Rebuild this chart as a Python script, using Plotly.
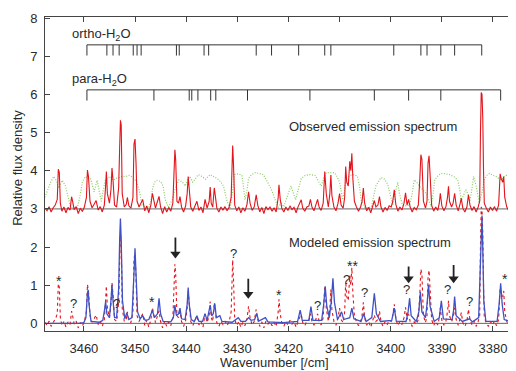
import plotly.graph_objects as go

# ---------------- data ----------------
x_ticks = [3460, 3450, 3440, 3430, 3420, 3410, 3400, 3390, 3380]
y_ticks = [0, 1, 2, 3, 4, 5, 6, 7, 8]

ortho_lines = [3459.4, 3455.5, 3454.3, 3453.1, 3450.35, 3449.6, 3448.8, 3441.9, 3441.35,
               3436.5, 3435.6, 3426.3, 3423.3, 3418.0, 3412.9, 3411.7, 3399.4, 3394.1,
               3392.9, 3390.2, 3387.5, 3382.2]
para_lines = [3459.4, 3446.3, 3439.4, 3438.9, 3437.7, 3435.2, 3434.2, 3428.0, 3415.8,
              3403.2, 3396.5, 3390.2, 3378.5]
ortho_level = 7.30
para_level = 6.12

observed_offset = 3.0

# observed spectrum (relative flux above its own baseline): (wavenumber, value)
observed = [
    (3467.6, 0.02), (3467.2, -0.05), (3466.8, 0.06), (3466.4, -0.08), (3466.0, 0.03), (3465.6, 0.10),
    (3465.2, 0.25), (3465.0, 1.04), (3464.8, 0.95), (3464.6, 0.15), (3464.3, -0.06), (3463.9, 0.05),
    (3463.5, -0.10), (3463.1, 0.04), (3462.7, -0.03), (3462.4, 0.32), (3462.2, 0.20), (3461.9, -0.02),
    (3461.5, 0.06), (3461.1, -0.12), (3460.7, 0.02), (3460.3, -0.07), (3459.9, 0.05), (3459.5, 0.30),
    (3459.3, 1.02), (3459.1, 0.85), (3458.8, 0.20), (3458.4, 0.03), (3458.0, 0.12), (3457.6, 0.22),
    (3457.2, -0.03), (3456.8, 0.06), (3456.4, -0.08), (3456.0, 0.10), (3455.75, 0.60), (3455.6, 0.98),
    (3455.4, 0.40), (3455.0, 0.15), (3454.7, 0.50), (3454.5, 1.07), (3454.3, 0.75), (3454.0, 0.10),
    (3453.6, 0.05), (3453.2, 0.55), (3453.0, 1.60), (3452.85, 2.32), (3452.7, 2.20), (3452.5, 0.40),
    (3452.1, 0.05), (3451.7, 0.12), (3451.5, 0.30), (3451.2, 0.08), (3450.8, 0.02), (3450.4, 0.30),
    (3450.2, 1.70), (3450.0, 1.83), (3449.8, 1.20), (3449.6, 0.20), (3449.2, 0.05), (3448.8, 0.18),
    (3448.5, 0.25), (3448.1, -0.05), (3447.7, 0.08), (3447.3, -0.10), (3446.9, 0.10), (3446.6, 0.41),
    (3446.3, 0.25), (3446.0, 0.02), (3445.6, 0.20), (3445.3, 0.33), (3445.0, 0.05), (3444.6, -0.12),
    (3444.2, 0.06), (3443.8, -0.08), (3443.4, 0.04), (3443.0, -0.06), (3442.6, 0.15), (3442.35, 1.20),
    (3442.2, 1.55), (3442.05, 1.30), (3441.8, 0.20), (3441.5, 0.15), (3441.2, 0.32), (3440.9, 0.05),
    (3440.5, -0.08), (3440.1, 0.08), (3439.8, 0.40), (3439.6, 0.85), (3439.4, 0.50), (3439.1, 0.05),
    (3438.7, -0.06), (3438.3, 0.06), (3437.9, 0.20), (3437.5, -0.04), (3437.1, 0.05), (3436.7, -0.10),
    (3436.3, 0.25), (3435.9, 0.02), (3435.5, 0.20), (3435.3, 0.57), (3435.1, 0.15), (3434.8, 0.05),
    (3434.5, 0.55), (3434.3, 0.35), (3434.0, 0.02), (3433.6, -0.08), (3433.2, 0.05), (3432.8, -0.03),
    (3432.4, 0.06), (3432.0, -0.05), (3431.6, 0.04), (3431.2, 0.30), (3431.0, 1.40), (3430.9, 1.66),
    (3430.75, 1.20), (3430.5, 0.10), (3430.1, -0.05), (3429.7, 0.05), (3429.3, -0.10), (3428.9, 0.03),
    (3428.5, -0.06), (3428.1, 0.12), (3427.8, 0.45), (3427.5, 0.15), (3427.1, -0.04), (3426.7, 0.05),
    (3426.3, 0.37), (3426.0, 0.10), (3425.6, -0.08), (3425.2, 0.04), (3424.8, -0.12), (3424.4, 0.06),
    (3424.0, -0.02), (3423.6, 0.05), (3423.2, -0.06), (3422.8, 0.03), (3422.4, -0.08), (3422.0, 0.30),
    (3421.85, 0.63), (3421.6, 0.25), (3421.3, 0.02), (3420.9, -0.08), (3420.5, 0.05), (3420.1, -0.04),
    (3419.7, 0.08), (3419.3, -0.02), (3418.9, 0.04), (3418.5, -0.10), (3418.1, 0.06), (3417.7, 0.18),
    (3417.5, 0.24), (3417.2, 0.02), (3416.8, -0.06), (3416.4, 0.05), (3416.0, 0.08), (3415.7, 0.25),
    (3415.4, 0.05), (3415.0, -0.05), (3414.6, 0.10), (3414.3, 0.25), (3414.0, 0.05), (3413.6, -0.04),
    (3413.2, 0.15), (3412.9, 0.98), (3412.6, 0.40), (3412.2, 0.05), (3411.9, 0.40), (3411.7, 0.89),
    (3411.5, 0.35), (3411.1, 0.05), (3410.7, -0.05), (3410.3, 0.15), (3410.0, 0.40), (3409.7, 0.10),
    (3409.3, 0.02), (3409.0, 0.30), (3408.8, 1.11), (3408.6, 0.70), (3408.3, 0.60), (3408.0, 1.25),
    (3407.8, 1.00), (3407.6, 1.46), (3407.4, 0.80), (3407.1, 0.20), (3406.7, 0.05), (3406.3, -0.06),
    (3405.9, 0.05), (3405.6, 0.20), (3405.35, 0.55), (3405.1, 0.15), (3404.7, -0.05), (3404.3, 0.04),
    (3403.9, -0.10), (3403.5, 0.08), (3403.2, 0.22), (3402.9, 0.05), (3402.5, 0.10), (3402.2, 0.32),
    (3401.9, 0.05), (3401.5, -0.08), (3401.1, 0.04), (3400.7, -0.04), (3400.3, 0.08), (3399.9, 0.05),
    (3399.6, 0.20), (3399.3, 0.50), (3399.0, 0.12), (3398.6, -0.06), (3398.2, 0.05), (3397.8, -0.03),
    (3397.4, 0.15), (3397.1, 0.42), (3396.8, 0.10), (3396.5, 0.25), (3396.2, 0.05), (3395.8, -0.08),
    (3395.4, 0.04), (3395.0, -0.02), (3394.6, 0.10), (3394.3, 0.80), (3394.1, 1.42), (3393.9, 1.30),
    (3393.6, 0.20), (3393.2, 0.02), (3392.9, 0.20), (3392.7, 1.20), (3392.5, 1.39), (3392.3, 0.90),
    (3392.0, 0.10), (3391.6, -0.06), (3391.2, 0.05), (3390.8, -0.04), (3390.5, 0.15), (3390.3, 0.41),
    (3390.0, 0.08), (3389.6, -0.05), (3389.2, 0.06), (3388.9, 0.30), (3388.7, 0.59), (3388.5, 0.20),
    (3388.1, 0.05), (3387.8, 0.15), (3387.5, 0.41), (3387.2, 0.10), (3386.8, -0.05), (3386.4, 0.15),
    (3386.2, 0.28), (3385.9, 0.02), (3385.5, -0.08), (3385.1, 0.05), (3384.8, 0.37), (3384.5, 0.10),
    (3384.1, -0.04), (3383.7, 0.06), (3383.3, -0.08), (3382.9, 0.05), (3382.6, 0.20), (3382.45, 2.00),
    (3382.3, 3.05), (3382.15, 3.00), (3382.0, 2.40), (3381.85, 1.00), (3381.7, 0.15), (3381.3, 0.02),
    (3380.9, -0.08), (3380.5, 0.05), (3380.1, -0.04), (3379.7, 0.06), (3379.3, -0.06), (3378.9, 0.10),
    (3378.6, 0.92), (3378.4, 0.80), (3378.1, 0.70), (3377.9, 0.85), (3377.7, 0.30), (3377.3, 0.05),
    (3376.9, -0.05), (3376.5, 0.30), (3376.2, 0.10), (3375.8, -0.03), (3375.5, 0.05),
]

# atmospheric transmission (green dotted), absolute y values
transmission = [
    (3467.8, 3.24), (3467.2, 3.45), (3466.5, 3.70), (3465.9, 3.85), (3465.4, 3.75), (3464.9, 3.55),
    (3464.2, 3.75), (3463.6, 3.60), (3463.1, 3.30), (3462.6, 3.05), (3461.9, 3.02), (3461.3, 3.03),
    (3460.8, 3.30), (3460.3, 3.70), (3459.7, 3.85), (3459.2, 3.80), (3458.7, 3.80), (3458.0, 3.45),
    (3457.4, 3.75), (3457.0, 3.50), (3456.6, 3.20), (3456.2, 3.50), (3455.8, 3.75), (3455.3, 3.82),
    (3454.8, 3.85), (3454.3, 3.75), (3453.8, 3.80), (3453.1, 3.82), (3452.5, 3.85), (3451.8, 3.85),
    (3451.2, 3.88), (3450.7, 3.85), (3450.2, 3.80), (3449.7, 3.70), (3449.2, 3.50), (3448.6, 3.10),
    (3448.0, 3.04), (3447.3, 3.05), (3446.9, 3.20), (3446.6, 3.50), (3446.2, 3.70), (3445.7, 3.75),
    (3445.0, 3.72), (3444.5, 3.60), (3444.1, 3.24), (3443.5, 3.05), (3442.7, 3.24), (3442.0, 3.60),
    (3441.4, 3.76), (3440.7, 3.70), (3440.2, 3.60), (3439.7, 3.75), (3439.3, 3.85), (3438.7, 3.70),
    (3438.1, 3.82), (3437.6, 3.90), (3436.9, 3.85), (3436.2, 3.78), (3435.3, 3.90), (3434.6, 3.85),
    (3434.0, 3.80), (3433.3, 3.72), (3432.7, 3.60), (3432.0, 3.20), (3431.4, 3.00), (3431.0, 3.40),
    (3430.5, 3.90), (3429.8, 3.92), (3429.1, 3.88), (3428.8, 3.60), (3428.5, 3.24), (3428.1, 3.50),
    (3427.8, 3.80), (3427.2, 3.90), (3426.5, 3.95), (3425.7, 3.93), (3424.9, 3.90), (3424.0, 3.68),
    (3423.3, 3.50), (3422.6, 3.24), (3422.0, 3.05), (3421.4, 3.15), (3420.9, 3.05), (3420.3, 3.30),
    (3419.5, 3.60), (3419.0, 3.40), (3418.6, 3.24), (3418.0, 3.55), (3417.5, 3.80), (3416.7, 3.88),
    (3415.9, 3.90), (3414.8, 3.88), (3414.2, 3.75), (3413.6, 3.60), (3413.1, 3.80), (3412.6, 3.95),
    (3411.8, 3.95), (3411.0, 3.95), (3410.5, 3.85), (3410.0, 3.70), (3409.4, 3.24), (3409.0, 3.50),
    (3408.7, 3.80), (3407.9, 3.88), (3407.1, 3.90), (3406.5, 3.85), (3406.1, 3.60), (3405.8, 3.24),
    (3405.2, 3.05), (3404.5, 3.03), (3403.8, 3.05), (3403.3, 3.35), (3402.9, 3.60), (3401.9, 3.82),
    (3401.2, 3.78), (3400.6, 3.65), (3400.1, 3.40), (3399.6, 3.10), (3399.0, 3.50), (3398.6, 3.70),
    (3398.3, 3.40), (3397.7, 3.10), (3397.0, 3.08), (3396.3, 3.10), (3395.8, 3.40), (3395.4, 3.76),
    (3394.9, 3.70), (3394.4, 3.60), (3393.7, 3.50), (3393.0, 3.40), (3392.5, 3.20), (3392.1, 3.06),
    (3391.7, 3.40), (3391.4, 3.76), (3390.7, 3.88), (3390.1, 3.93), (3389.3, 3.92), (3388.5, 3.90),
    (3387.7, 3.85), (3386.9, 3.76), (3386.5, 3.50), (3386.2, 3.20), (3385.8, 3.35), (3385.3, 3.50),
    (3384.9, 3.40), (3384.5, 3.20), (3384.1, 3.55), (3383.8, 3.85), (3383.3, 3.60), (3382.7, 3.15),
    (3382.2, 3.40), (3381.7, 3.76), (3381.2, 3.88), (3380.7, 3.93), (3380.0, 3.88), (3379.4, 3.85),
    (3378.9, 3.80), (3378.4, 3.76), (3377.8, 3.85), (3377.1, 3.90), (3376.4, 3.88), (3375.8, 3.90),
    (3375.5, 3.85),
]

# modeled emission spectrum (blue)
modeled = [
    (3467.6, 0.00), (3461.0, 0.00), (3460.0, 0.02), (3459.6, 0.15), (3459.3, 0.80), (3459.15, 0.88),
    (3459.0, 0.50), (3458.6, 0.05), (3457.0, 0.03), (3456.3, 0.08), (3455.9, 0.40), (3455.75, 0.57),
    (3455.5, 0.25), (3455.0, 0.15), (3454.7, 0.60), (3454.5, 1.01), (3454.3, 0.60), (3454.0, 0.15),
    (3453.6, 0.15), (3453.2, 0.90), (3453.0, 2.20), (3452.85, 2.75), (3452.7, 2.20), (3452.45, 0.60),
    (3452.0, 0.12), (3451.6, 0.27), (3451.2, 0.10), (3450.6, 0.15), (3450.2, 1.30), (3450.0, 1.97),
    (3449.8, 1.30), (3449.5, 0.30), (3449.0, 0.12), (3448.5, 0.20), (3448.0, 0.08), (3447.3, 0.10),
    (3446.6, 0.34), (3446.2, 0.15), (3445.6, 0.25), (3445.3, 0.66), (3445.0, 0.25), (3444.5, 0.05),
    (3443.0, 0.04), (3442.5, 0.15), (3442.2, 0.48), (3441.9, 0.20), (3441.5, 0.25), (3441.2, 0.40),
    (3440.9, 0.12), (3440.2, 0.10), (3439.8, 0.50), (3439.6, 0.94), (3439.4, 0.50), (3439.0, 0.10),
    (3438.4, 0.05), (3437.9, 0.20), (3437.5, 0.05), (3436.8, 0.05), (3436.3, 0.25), (3435.9, 0.08),
    (3435.3, 0.48), (3435.0, 0.20), (3434.7, 0.25), (3434.4, 0.52), (3434.1, 0.15), (3433.4, 0.20),
    (3433.0, 0.05), (3431.0, 0.03), (3429.8, 0.15), (3429.3, 0.05), (3428.4, 0.05), (3427.8, 0.15),
    (3427.3, 0.08), (3426.6, 0.10), (3426.2, 0.25), (3425.8, 0.06), (3424.5, 0.15), (3424.0, 0.04),
    (3421.0, 0.02), (3418.2, 0.05), (3417.7, 0.35), (3417.3, 0.08), (3416.0, 0.08), (3415.6, 0.44),
    (3415.2, 0.08), (3413.5, 0.08), (3413.1, 0.50), (3412.8, 0.97), (3412.5, 0.45), (3412.0, 0.15),
    (3411.6, 0.60), (3411.3, 1.18), (3411.0, 0.55), (3410.4, 0.10), (3409.6, 0.30), (3409.2, 0.10),
    (3408.0, 0.15), (3407.6, 0.40), (3407.2, 0.12), (3405.8, 0.05), (3405.3, 0.25), (3404.8, 0.05),
    (3403.7, 0.15), (3403.2, 0.79), (3402.8, 0.25), (3402.0, 0.05), (3399.8, 0.08), (3399.3, 0.40),
    (3398.9, 0.06), (3397.0, 0.05), (3396.6, 0.30), (3396.3, 0.66), (3396.0, 0.20), (3395.0, 0.05),
    (3394.5, 0.30), (3394.2, 0.83), (3393.9, 0.30), (3393.2, 0.15), (3392.9, 0.50), (3392.6, 1.01),
    (3392.3, 0.45), (3391.5, 0.05), (3390.5, 0.15), (3390.1, 0.59), (3389.7, 0.12), (3388.0, 0.10),
    (3387.7, 0.35), (3387.5, 0.70), (3387.2, 0.20), (3386.0, 0.05), (3384.6, 0.12), (3384.0, 0.04),
    (3382.8, 0.15), (3382.5, 1.50), (3382.3, 2.70), (3382.15, 2.83), (3382.0, 2.00), (3381.8, 0.60),
    (3381.4, 0.05), (3379.2, 0.05), (3378.8, 0.50), (3378.5, 1.05), (3378.2, 0.50), (3377.8, 0.10),
    (3376.0, 0.02), (3375.5, 0.00),
]

# markers on the modeled panel: (wavenumber, y, text)
marks = [
    (3464.8, 1.10, "*"), (3462.1, 0.51, "?"), (3453.6, 0.51, "?"), (3446.6, 0.56, "*"),
    (3430.8, 1.84, "?"), (3421.8, 0.75, "*"), (3414.3, 0.48, "?"), (3408.7, 1.14, "?"),
    (3407.4, 1.51, "**"), (3405.1, 0.81, "?"), (3397.0, 0.88, "?"), (3388.8, 0.88, "?"),
    (3384.5, 0.57, "?"), (3377.7, 1.16, "*"),
]
# arrows: (wavenumber, tail y, tip y)
arrows = [(3442.1, 2.25, 1.70), (3427.85, 1.17, 0.64), (3396.5, 1.49, 1.05), (3387.7, 1.53, 1.05)]

# ---------------- figure ----------------
FONT = "Liberation Sans, Arial, sans-serif"
TXT = "#2a2a2a"
X_RANGE = [3467.6, 3375.5]
Y_RANGE = [-0.2, 8.03]
HEAD = 0.12  # half height of the arrow-head marker, in y units

fig = go.Figure()

fig.add_trace(go.Scatter(x=[p[0] for p in transmission], y=[p[1] for p in transmission],
                         mode="lines", line=dict(color="#86cc62", width=1.2, dash="1px,1.6px"),
                         hoverinfo="skip"))
for b in (observed_offset, 0.0):
    fig.add_trace(go.Scatter(x=X_RANGE, y=[b, b], mode="lines",
                             line=dict(color="#666666", width=1), hoverinfo="skip"))
fig.add_trace(go.Scatter(x=[p[0] for p in observed], y=[p[1] + observed_offset for p in observed],
                         mode="lines", line=dict(color="#e3141b", width=1.1), hoverinfo="skip"))
fig.add_trace(go.Scatter(x=[p[0] for p in observed], y=[p[1] for p in observed],
                         mode="lines", line=dict(color="#e3141b", width=1.1, dash="dot"),
                         hoverinfo="skip"))
fig.add_trace(go.Scatter(x=[p[0] for p in modeled], y=[p[1] for p in modeled],
                         mode="lines", line=dict(color="#3f51c4", width=1.3), hoverinfo="skip"))


def sticks(lines, level, depth):
    xs, ys = [min(lines), max(lines), None], [level, level, None]
    for w in lines:
        xs += [w, w, None]
        ys += [level, level - depth, None]
    return xs, ys


for lines, level in ((ortho_lines, ortho_level), (para_lines, para_level)):
    xs, ys = sticks(lines, level, 0.28)
    fig.add_trace(go.Scatter(x=xs, y=ys, mode="lines", line=dict(color="#333333", width=1),
                             hoverinfo="skip"))

# arrows: shaft + triangular head
ax_, ay_ = [], []
for w, y0, y1 in arrows:
    ax_ += [w, w, None]
    ay_ += [y0, y1 + HEAD, None]
fig.add_trace(go.Scatter(x=ax_, y=ay_, mode="lines", line=dict(color="#222222", width=1.8),
                         hoverinfo="skip"))
fig.add_trace(go.Scatter(x=[a[0] for a in arrows], y=[a[2] + HEAD for a in arrows], mode="markers",
                         marker=dict(symbol="triangle-down", size=9, color="#222222",
                                     line=dict(width=0)), hoverinfo="skip"))

ann = []
ann.append(dict(x=3462.7, y=7.56, text="ortho-H<sub>2</sub>O", xanchor="left", yanchor="middle",
                showarrow=False, font=dict(size=13, color=TXT, family=FONT)))
ann.append(dict(x=3462.7, y=6.38, text="para-H<sub>2</sub>O", xanchor="left", yanchor="middle",
                showarrow=False, font=dict(size=13, color=TXT, family=FONT)))
ann.append(dict(x=3420.3, y=5.15, text="Observed emission spectrum", xanchor="left", yanchor="middle",
                showarrow=False, font=dict(size=13, color=TXT, family=FONT)))
ann.append(dict(x=3420.3, y=2.11, text="Modeled emission spectrum", xanchor="left", yanchor="middle",
                showarrow=False, font=dict(size=13, color=TXT, family=FONT)))
for w, y, t in marks:
    ann.append(dict(x=w, y=y, text=t, showarrow=False, xanchor="center", yanchor="middle",
                    font=dict(size=14 if "*" in t else 13, color=TXT, family=FONT)))
ann.append(dict(xref="paper", yref="paper", x=0.488, y=-0.099, text="Wavenumber [/cm]",
                showarrow=False, xanchor="center", yanchor="middle",
                font=dict(size=13, color=TXT, family=FONT)))
ann.append(dict(xref="paper", yref="paper", x=-0.057, y=0.52, text="Relative flux density",
                showarrow=False, textangle=-90, xanchor="center", yanchor="middle",
                font=dict(size=13, color=TXT, family=FONT)))

# the page body has an 8px margin: shrink the figure so the plot area lands where the reference has it
fig.update_layout(
    width=508, height=363,
    margin=dict(l=37, r=0, t=9, b=40),
    paper_bgcolor="white", plot_bgcolor="white",
    showlegend=False,
    annotations=ann,
    font=dict(family=FONT, size=13, color=TXT),
)
fig.update_xaxes(range=X_RANGE, tickvals=x_ticks, ticktext=[str(v) for v in x_ticks],
                 ticks="inside", ticklen=5, tickcolor="#444", showline=True, linecolor="#444",
                 linewidth=1, mirror="ticks", showgrid=False, zeroline=False, automargin=False,
                 ticklabelstandoff=5, tickfont=dict(size=13, color=TXT, family=FONT))
fig.update_yaxes(range=Y_RANGE, tickvals=y_ticks, ticks="inside", ticklen=5, tickcolor="#444",
                 showline=True, linecolor="#444", linewidth=1, mirror=False, showgrid=False,
                 zeroline=False, automargin=False, ticklabelstandoff=4,
                 tickfont=dict(size=13, color=TXT, family=FONT))

fig.write_html("out.html")
